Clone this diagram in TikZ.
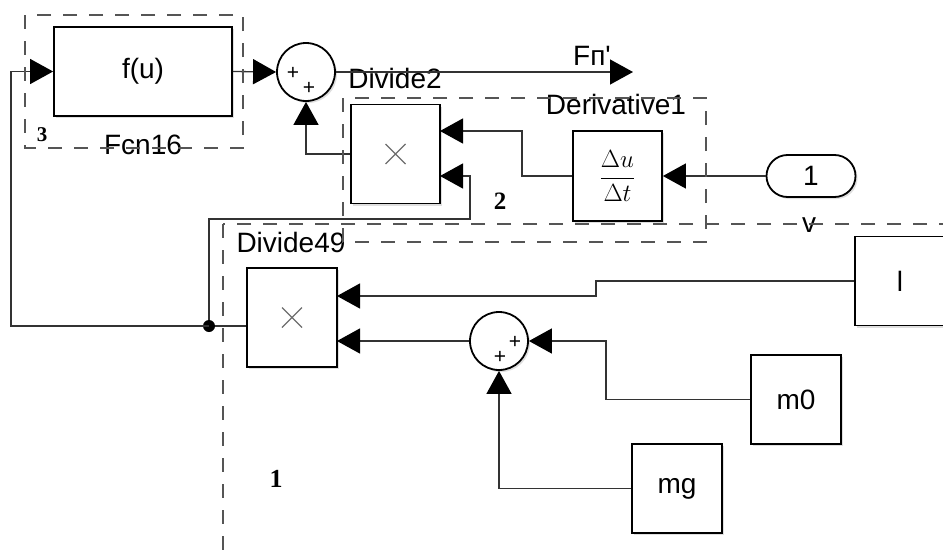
\documentclass[tikz,border=0pt]{standalone}
\usepackage{amsmath}
\usepackage{fontspec}
\setmainfont{Liberation Sans}
\newfontfamily\numfont{Liberation Serif}
\usepackage{tikz}
\usetikzlibrary{arrows.meta,shadows}
\definecolor{sigline}{HTML}{333333}
\definecolor{grpdash}{HTML}{555555}
\definecolor{crossgray}{HTML}{6E6E6E}
\tikzset{
  every node/.append style={font=\fontsize{28}{30}\selectfont},
  blk/.style={draw=black,line width=1.8pt,fill=white,
    drop shadow={shadow xshift=2pt,shadow yshift=-2pt,opacity=.25}},
  sumblk/.style={blk,circle,minimum size=58pt,inner sep=0pt},
  inport/.style={blk,rounded corners=21pt,minimum width=89pt,minimum height=42pt},
  sig/.style={draw=sigline,line width=1.3pt},
  sigin/.style={sig,-{Triangle[length=23pt,width=25pt,black]}},
  grp/.style={draw=grpdash,line width=1.2pt,dash pattern=on 14pt off 12pt},
  grpnum/.style={inner sep=0pt},
  sgn/.style={font=\fontsize{21}{22}\selectfont,inner sep=0pt},
  prodmark/.style={draw=crossgray,line width=1.1pt},
}

\begin{document}
\begin{tikzpicture}[x=1pt,y=-1pt]
  \useasboundingbox (0,0) rectangle (943,554);
  \fill[white] (0,0) rectangle (943,554);
  \clip (0,0) rectangle (943,554);

  \node[blk,minimum width=178pt,minimum height=89pt] (fcn) at (143,71.5) {f(u)};
  \node (fcnlbl) at (143,145) {Fcn16};
  \node[sumblk] (sumtop) at (306,72) {};
  \node[sgn] (sumtopa) at (293,73) {+};
  \node[sgn] (sumtopb) at (309,88) {+};
  \node (div2lbl) at (395,78) {Divide2};
  \node[blk,minimum width=89pt,minimum height=99pt] (div2) at (395.5,154) {};
  \node[blk,minimum width=89pt,minimum height=90pt,inner sep=0pt,
    font=\fontsize{27}{29}\selectfont] (deriv) at (617.5,176)
    {$\displaystyle\frac{\Delta u}{\Delta t}$};
  \node (derivlbl) at (616,104.5) {Derivative1};
  \node[inport] (inv) at (811,176) {1};
  \node (vlbl) at (809,225) {v};
  \node (fplbl) at (592,56) {Fп\textquotesingle};

  \node[blk,minimum width=90pt,minimum height=99pt] (div49) at (292,317.5) {};
  \node (div49lbl) at (291,242) {Divide49};
  \node[circle,fill=black,inner sep=0pt,minimum size=12pt] (jn) at (209,326) {};
  \node[blk,minimum width=90pt,minimum height=89pt] (lblk) at (900,281) {l};
  \node[sumblk] (sum2) at (499,341) {};
  \node[sgn] (sum2a) at (515,342) {+};
  \node[sgn] (sum2b) at (500,357) {+};
  \node[blk,minimum width=90pt,minimum height=89pt] (m0) at (796,399.5) {m0};
  \node[blk,minimum width=90pt,minimum height=89pt] (mg) at (677,488.5) {mg};

  \draw[prodmark] ([shift={(-10,-10)}]div2.center) -- ([shift={(10,10)}]div2.center)
    ([shift={(-10,10)}]div2.center) -- ([shift={(10,-10)}]div2.center);
  \draw[prodmark] ([shift={(-10,-10)}]div49.center) -- ([shift={(10,10)}]div49.center)
    ([shift={(-10,10)}]div49.center) -- ([shift={(10,-10)}]div49.center);

  \coordinate (fpout) at (633,72);
  \coordinate (d2a) at (440,131);
  \coordinate (d2b) at (440,176);
  \coordinate (d49a) at (337,296);
  \coordinate (d49b) at (337,341);

  \draw[sigin] (fcn.east) -- (sumtop.west);
  \draw[sigin] (sumtop.east) -- (fpout);
  \draw[sigin] (div2.west) -| (sumtop.south);
  \draw[sigin] (deriv.west) -- ++(-50,0) |- (d2a);
  \draw[sigin] (inv.west) -- (deriv.east);
  \draw[sig] (div49.west |- jn) -- (jn);
  \draw[sigin] (jn) |- (470,219) |- (d2b);
  \draw[sigin] (jn.center) -- ++(-198,0) |- (fcn.west);
  \draw[sigin] (lblk.west) -- ++(-258,0) |- (d49a);
  \draw[sigin] (sum2.west) -- (d49b);
  \draw[sigin] (m0.west) -- ++(-144,0) |- (sum2.east);
  \draw[sigin] (mg.west) -| (sum2.south);

  \draw[grp] (25,15) rectangle (243,148);
  \draw[grp] (343,98) rectangle (706,242);
  \draw[grp] (223,224) rectangle (960,580);
  \node[grpnum,font=\numfont\bfseries\fontsize{21}{23}\selectfont] (grp3) at (42,135) {3};
  \node[grpnum,font=\numfont\bfseries\fontsize{25}{27}\selectfont] (grp2) at (500,201) {2};
  \node[grpnum,font=\numfont\bfseries\fontsize{26}{28}\selectfont] (grp1) at (276,479) {1};
\end{tikzpicture}
\end{document}
